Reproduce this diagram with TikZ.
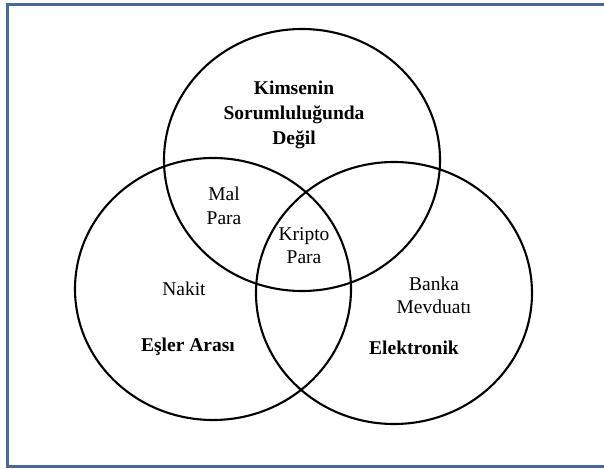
\documentclass[tikz,border=0pt]{standalone}
\usepackage{fontspec}
\setmainfont{Liberation Serif}
\usepackage{tikz}
\usetikzlibrary{shapes.geometric}
\definecolor{framebl}{HTML}{4A6795}

\begin{document}
\begin{tikzpicture}[x=1pt,y=-1pt,
    set/.style={draw,ellipse,line width=2.1pt,minimum width=276pt,minimum height=262pt,inner sep=0pt},
    lbl/.style={align=center,inner sep=0pt,font=\fontsize{19.5}{23.5}\selectfont},
    title/.style={lbl,font=\fontsize{19.5}{25}\selectfont\bfseries}]
  \useasboundingbox (0,0) rectangle (604,468);
  \draw[framebl,line width=2.4pt] (7.5,4.5) rectangle (615,466.5);
  % the three sets
  \node[set] (kimse) at (302,160) {};
  \node[set] (esler) at (213,289) {};
  \node[set] (elekt) at (394,293) {};
  % set names
  \node[title] (kimsett) at (294,115) {Kimsenin\\Sorumluluğunda\\Değil};
  \node[title] (eslertt) at (188,347) {Eşler Arası};
  \node[title] (elekttt) at (414,348) {Elektronik};
  % members
  \node[lbl] (malpara) at (224,206) {Mal\\Para};
  \node[lbl] (kripto)  at (304,245.5) {Kripto\\Para};
  \node[lbl] (nakit)   at (184,289) {Nakit};
  \node[lbl] (banka)   at (434,295.5) {Banka\\Mevduatı};
\end{tikzpicture}
\end{document}
